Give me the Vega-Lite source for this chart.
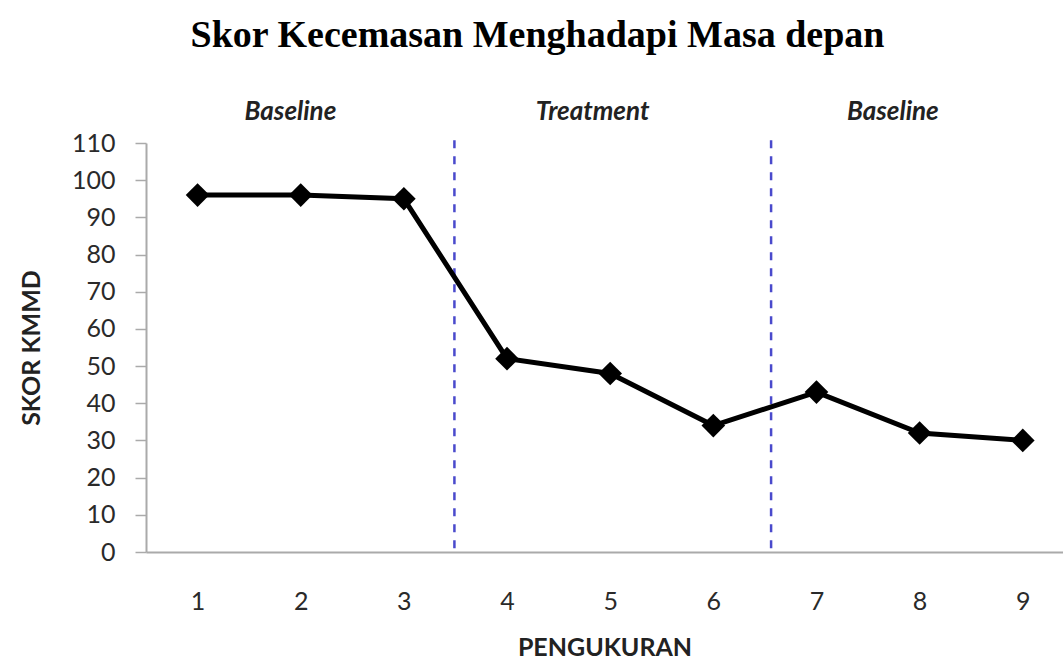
{
  "$schema": "https://vega.github.io/schema/vega-lite/v6.json",
  "autosize": "none",
  "width": 917,
  "height": 409,
  "padding": {"left": 146, "top": 143, "right": 0, "bottom": 110},
  "background": "white",
  "title": {
    "text": "Skor Kecemasan Menghadapi Masa depan",
    "font": "Liberation Serif",
    "fontSize": 38,
    "fontWeight": "bold",
    "color": "black",
    "anchor": "middle",
    "dx": -67,
    "offset": 44
  },
  "config": {
    "view": {"stroke": null},
    "axis": {
      "titleFont": "Lato",
      "titleFontSize": 25,
      "titleFontWeight": "bold",
      "titleColor": "#222",
      "labelFont": "Lato",
      "labelFontSize": 25,
      "labelColor": "#2a2a2a",
      "grid": false,
      "domainColor": "#aaaaaa",
      "domainWidth": 2
    },
    "axisX": {"ticks": false, "labelPadding": 37, "titlePadding": 21},
    "axisY": {"tickSize": 11, "tickColor": "#aaaaaa", "tickWidth": 1.5, "labelPadding": 20, "titlePadding": 27, "labelOverlap": false}
  },
  "datasets": {
    "scores": [
      {"pengukuran": 1, "skor": 96},
      {"pengukuran": 2, "skor": 96},
      {"pengukuran": 3, "skor": 95},
      {"pengukuran": 4, "skor": 52},
      {"pengukuran": 5, "skor": 48},
      {"pengukuran": 6, "skor": 34},
      {"pengukuran": 7, "skor": 43},
      {"pengukuran": 8, "skor": 32},
      {"pengukuran": 9, "skor": 30}
    ],
    "boundaries": [{"boundary": 3.49}, {"boundary": 6.56}],
    "phases": [
      {"phase": "Baseline", "mid": 1.9},
      {"phase": "Treatment", "mid": 4.83},
      {"phase": "Baseline", "mid": 7.74}
    ]
  },
  "layer": [
    {
      "data": {"name": "boundaries"},
      "mark": {"type": "rule", "color": "#4a4acc", "strokeWidth": 2.5, "strokeDash": [8, 8]},
      "encoding": {
        "x": {"field": "boundary", "type": "quantitative", "scale": {"domain": [0.5, 9.39], "nice": false, "zero": false}, "axis": {"values": [1, 2, 3, 4, 5, 6, 7, 8, 9], "format": "d", "title": "PENGUKURAN"}},
        "y": {"datum": 1, "type": "quantitative", "scale": {"domain": [0, 110], "nice": false}, "axis": {"values": [0, 10, 20, 30, 40, 50, 60, 70, 80, 90, 100, 110], "format": "d", "title": "SKOR KMMD"}},
        "y2": {"datum": 110.8}
      }
    },
    {
      "data": {"name": "phases"},
      "mark": {"type": "text", "font": "Lato", "fontSize": 26, "fontStyle": "italic", "fontWeight": "bold", "color": "#222", "baseline": "middle"},
      "encoding": {
        "x": {"field": "mid", "type": "quantitative", "axis": {"values": [1, 2, 3, 4, 5, 6, 7, 8, 9], "format": "d", "title": "PENGUKURAN"}},
        "y": {"datum": 118.3, "type": "quantitative", "axis": {"values": [0, 10, 20, 30, 40, 50, 60, 70, 80, 90, 100, 110], "format": "d", "title": "SKOR KMMD"}},
        "text": {"field": "phase"}
      }
    },
    {
      "data": {"name": "scores"},
      "mark": {"type": "line", "color": "black", "strokeWidth": 5},
      "encoding": {
        "x": {"field": "pengukuran", "type": "quantitative", "axis": {"values": [1, 2, 3, 4, 5, 6, 7, 8, 9], "format": "d", "title": "PENGUKURAN"}},
        "y": {"field": "skor", "type": "quantitative", "axis": {"values": [0, 10, 20, 30, 40, 50, 60, 70, 80, 90, 100, 110], "format": "d", "title": "SKOR KMMD"}}
      }
    },
    {
      "data": {"name": "scores"},
      "mark": {"type": "point", "shape": "diamond", "filled": true, "color": "black", "size": 560, "opacity": 1},
      "encoding": {
        "x": {"field": "pengukuran", "type": "quantitative", "axis": {"values": [1, 2, 3, 4, 5, 6, 7, 8, 9], "format": "d", "title": "PENGUKURAN"}},
        "y": {"field": "skor", "type": "quantitative", "axis": {"values": [0, 10, 20, 30, 40, 50, 60, 70, 80, 90, 100, 110], "format": "d", "title": "SKOR KMMD"}}
      }
    }
  ]
}
